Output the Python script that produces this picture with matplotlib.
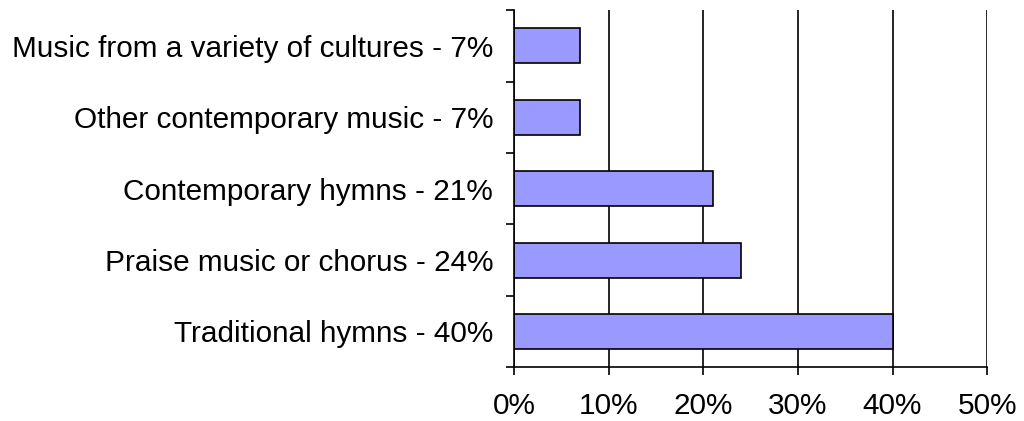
import matplotlib
matplotlib.use("Agg")
import matplotlib.pyplot as plt
import numpy as np

categories = ["Traditional hymns - 40%", "Praise music or chorus - 24%",
              "Contemporary hymns - 21%", "Other contemporary music - 7%",
              "Music from a variety of cultures - 7%"]
values = [40, 24, 21, 7, 7]
xticks = [0, 10, 20, 30, 40, 50]
xticklabels = ["0%", "10%", "20%", "30%", "40%", "50%"]

plt.rcParams['font.family'] = ['Liberation Sans', 'DejaVu Sans']
fig = plt.figure(figsize=(10.24, 4.21), dpi=100)
ax = fig.add_axes([0.502, 0.128, 0.462, 0.848])

y = np.arange(len(categories))
ax.barh(y, values, height=0.49, color="#9999FF", edgecolor="black", linewidth=1.2, zorder=3)
ax.set_xlim(0, 50)
ax.set_ylim(-0.5, len(categories) - 0.5)

ax.set_xticks(xticks)
ax.set_xticklabels(xticklabels, fontsize=21.4)
ax.set_yticks(y)
ax.set_yticklabels(categories, fontsize=21.4)
ax.set_yticks(np.arange(-0.5, len(categories)), minor=True)
ax.tick_params(axis='y', which='major', length=0, pad=15)
ax.tick_params(axis='y', which='minor', length=6, width=1.2, direction='out')
ax.tick_params(axis='x', which='major', length=6, width=1.2, direction='out', pad=12)

ax.xaxis.grid(True, color="black", linewidth=1.2, zorder=0)
for s in ['top', 'right']:
    ax.spines[s].set_visible(False)
for s in ['left', 'bottom']:
    ax.spines[s].set_linewidth(1.2)
    ax.spines[s].set_zorder(4)

fig.savefig("out.png", dpi=100)
